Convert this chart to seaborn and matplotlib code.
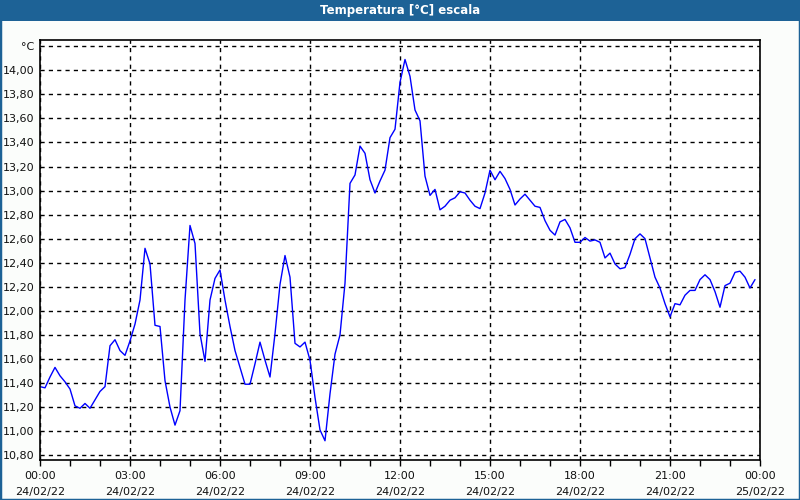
import matplotlib
matplotlib.use("Agg")
import matplotlib.pyplot as plt
import matplotlib.dates as mdates
import matplotlib.ticker as mticker
from matplotlib.patches import Rectangle
import pandas as pd
import seaborn as sns

# Temperature readings, one every 10 minutes on 24/02/22
temps = [
    11.37, 11.36, 11.45, 11.53, 11.46, 11.41, 11.35, 11.21, 11.19, 11.23,
    11.19, 11.26, 11.33, 11.37, 11.71, 11.76, 11.67, 11.63, 11.75, 11.89,
    12.09, 12.52, 12.39, 11.88, 11.87, 11.42, 11.20, 11.05, 11.17, 12.09,
    12.71, 12.56, 11.81, 11.58, 12.09, 12.27, 12.34, 12.09, 11.87, 11.67,
    11.53, 11.39, 11.39, 11.56, 11.74, 11.59, 11.45, 11.81, 12.22, 12.46,
    12.28, 11.73, 11.70, 11.74, 11.59, 11.28, 11.01, 10.92, 11.31, 11.64,
    11.80, 12.23, 13.06, 13.13, 13.37, 13.31, 13.09, 12.98, 13.08, 13.17,
    13.44, 13.51, 13.90, 14.09, 13.95, 13.67, 13.58, 13.12, 12.96, 13.01,
    12.84, 12.87, 12.92, 12.94, 12.99, 12.98, 12.92, 12.87, 12.85, 12.98,
    13.17, 13.09, 13.16, 13.10, 13.01, 12.88, 12.93, 12.97, 12.92, 12.87,
    12.86, 12.75, 12.67, 12.63, 12.74, 12.76, 12.69, 12.57, 12.57, 12.61,
    12.58, 12.59, 12.57, 12.44, 12.48, 12.39, 12.35, 12.36, 12.47, 12.60,
    12.64, 12.60, 12.44, 12.28, 12.19, 12.06, 11.95, 12.06, 12.05, 12.13,
    12.17, 12.17, 12.26, 12.30, 12.26, 12.16, 12.03, 12.21, 12.23, 12.32,
    12.33, 12.28, 12.19, 12.26,
]
times = pd.date_range("2022-02-24 00:00", periods=len(temps), freq="10min")
x_start = pd.Timestamp("2022-02-24 00:00")
x_end = pd.Timestamp("2022-02-25 00:00")
y_ticks = [10.8, 11.0, 11.2, 11.4, 11.6, 11.8, 12.0, 12.2, 12.4, 12.6,
           12.8, 13.0, 13.2, 13.4, 13.6, 13.8, 14.0, 14.2]
title = "Temperatura [°C] escala"
unit = "°C"

df = pd.DataFrame({"time": times, "temp": temps})

sns.set_style("white")
plt.rcParams["font.family"] = ["DejaVu Sans"]

bar_blue = "#1d6296"
fig = plt.figure(figsize=(8, 5), dpi=100)
fig.patch.set_facecolor("#fbfdfb")

# title bar + frame
fig.patches.append(Rectangle((0, 1 - 21 / 500), 1, 21 / 500, transform=fig.transFigure,
                             facecolor=bar_blue, edgecolor="none", zorder=0))
fig.patches.append(Rectangle((0, 0), 1, 1, transform=fig.transFigure,
                             facecolor="none", edgecolor=bar_blue, linewidth=2.5, zorder=1))
fig.text(0.5, 1 - 10.5 / 500, title, color="white", fontsize=8.5, fontweight="bold",
         ha="center", va="center")

ax = fig.add_axes([0.05, 0.08, 0.90, 0.84])
ax.set_facecolor("white")
sns.lineplot(data=df, x="time", y="temp", ax=ax, color="#0000ff", linewidth=1)

ax.set_xlim(x_start, x_end)
ax.set_ylim(10.76, 14.252)
ax.set_xlabel("")
ax.set_ylabel("")

ax.xaxis.set_major_locator(mdates.HourLocator(interval=3))
ax.xaxis.set_minor_locator(mdates.HourLocator(interval=1))
ax.xaxis.set_major_formatter(mdates.DateFormatter("%H:%M\n%d/%m/%y"))

ax.set_yticks(y_ticks)
def yfmt(v, pos):
    if abs(v - 14.2) < 1e-6:
        return unit
    return f"{v:.2f}".replace(".", ",")
ax.yaxis.set_major_formatter(mticker.FuncFormatter(yfmt))

ax.tick_params(axis="x", which="both", direction="out", length=4, width=1,
               color="black", labelsize=8, pad=4, bottom=True)
ax.tick_params(axis="y", which="both", length=0, labelsize=8, pad=4, left=True)
for lab in ax.get_xticklabels():
    lab.set_linespacing(1.75)
for lab in ax.get_xticklabels() + ax.get_yticklabels():
    lab.set_color("#111111")

ax.grid(True, which="major", color="black", linestyle=(0, (3, 3)), linewidth=1)
for sp in ax.spines.values():
    sp.set_visible(True)
    sp.set_color("black")
    sp.set_linewidth(1.2)

fig.savefig("out.png", dpi=100, facecolor=fig.get_facecolor())
